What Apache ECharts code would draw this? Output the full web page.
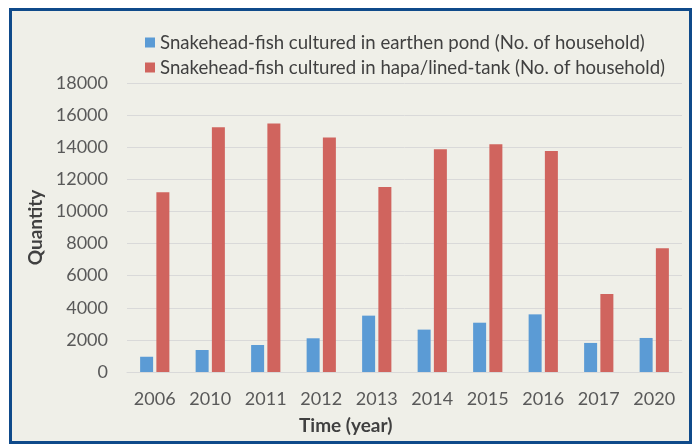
<!DOCTYPE html>
<html>
<head>
<meta charset="utf-8">
<script src="https://cdn.jsdelivr.net/npm/echarts@6/dist/echarts.min.js"></script>
<style>
  html, body { margin: 0; padding: 0; background: #ffffff; }
  #frame { position: absolute; left: 9px; top: 8px; width: 677px; height: 430px;
           border: 3px solid #0f4a8a; background: #efefe8; }
  #chart { position: absolute; left: 0; top: 0; width: 694px; height: 445px; }
</style>
</head>
<body>
<div id="frame"></div>
<div id="chart"></div>
<script>
// 年份
const years = ['2006', '2010', '2011', '2012', '2013', '2014', '2015', '2016', '2017', '2020'];
// earthen pond households
const pondValues = [950, 1370, 1680, 2100, 3510, 2640, 3070, 3590, 1810, 2120];
// hapa / lined-tank households
const tankValues = [11200, 15250, 15470, 14600, 11530, 13880, 14190, 13770, 4860, 7710];

const pondName = 'Snakehead-fish cultured in earthen pond (No. of household)';
const tankName = 'Snakehead-fish cultured in hapa/lined-tank (No. of household)';

var chart = echarts.init(document.getElementById('chart'));

var option = {
  animation: false,
  textStyle: { fontFamily: 'Lato' },
  legend: {
    orient: 'vertical',
    left: 140,
    top: 28,
    itemWidth: 10,
    itemHeight: 10,
    itemGap: 6,
    icon: 'rect',
    textStyle: { fontSize: 18.6, color: '#404040', fontFamily: 'Lato' },
    data: [pondName, tankName]
  },
  grid: {
    left: 127,
    right: 12,
    top: 83,
    bottom: 73
  },
  xAxis: {
    type: 'category',
    data: years,
    axisTick: { show: false },
    axisLine: { lineStyle: { color: '#d9d9d9', width: 1 } },
    axisLabel: { fontSize: 18, color: '#595959', margin: 18 }
  },
  yAxis: {
    type: 'value',
    min: 0,
    max: 18000,
    interval: 2000,
    name: 'Quantity',
    nameLocation: 'middle',
    nameGap: 82,
    nameTextStyle: { fontSize: 19, fontWeight: 'bold', color: '#404040' },
    axisLabel: { fontSize: 18, color: '#595959', margin: 19, formatter: v => String(v) },
    splitLine: { lineStyle: { color: '#d9d9d9', width: 1 } }
  },
  graphic: [{
    type: 'text',
    left: 299,
    top: 416,
    style: { text: 'Time (year)', fontSize: 19, fontWeight: 'bold', fill: '#404040', fontFamily: 'Lato' }
  }],
  series: [
    {
      name: pondName,
      type: 'bar',
      barWidth: 13,
      barGap: '25%',
      itemStyle: { color: '#5b9bd5' },
      data: pondValues
    },
    {
      name: tankName,
      type: 'bar',
      barWidth: 13,
      barGap: '25%',
      itemStyle: { color: '#d0645e' },
      data: tankValues
    }
  ]
};
chart.setOption(option);
</script>
</body>
</html>
